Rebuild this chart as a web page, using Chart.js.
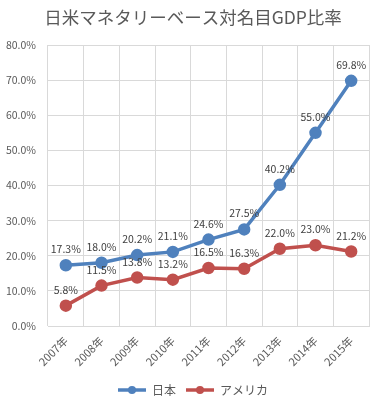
<!DOCTYPE html>
<html><head><meta charset="utf-8">
<script src="https://cdn.jsdelivr.net/npm/chart.js@4/dist/chart.umd.min.js"></script>
<style>html,body{margin:0;padding:0;background:#fff}#wrap{width:383px;height:406px}</style>
</head><body><div id="wrap"><canvas id="c" width="383" height="406"></canvas></div>
<script>
const categories = ['2007年','2008年','2009年','2010年','2011年','2012年','2013年','2014年','2015年'];
const japan = [17.3, 18.0, 20.2, 21.1, 24.6, 27.5, 40.2, 55.0, 69.8];
const usa = [5.8, 11.5, 13.8, 13.2, 16.5, 16.3, 22.0, 23.0, 21.2];
const seriesNames = ['日本', 'アメリカ'];
const colors = ['#4F81BD', '#C0504D'];
const FONT = '"Noto Sans CJK JP", "Noto Sans", sans-serif';

function legendIcon(color){
  const cv = document.createElement('canvas');
  cv.width = 28; cv.height = 10;
  const x = cv.getContext('2d');
  x.strokeStyle = color; x.lineWidth = 3.5;
  x.beginPath(); x.moveTo(0,5); x.lineTo(28,5); x.stroke();
  x.fillStyle = color; x.beginPath(); x.arc(14,5,4,0,Math.PI*2); x.fill();
  return cv;
}
const icons = colors.map(legendIcon);

const labelPlugin = {
  id: 'pointLabels',
  afterLayout(chart){
    if (chart.titleBlock) chart.titleBlock.right = 386;
    if (chart.legend) chart.legend.right = 386;
  },
  afterDatasetsDraw(chart){
    const ctx = chart.ctx;
    ctx.save();
    ctx.font = '10.5px ' + FONT;
    ctx.fillStyle = '#404040';
    ctx.textAlign = 'center';
    ctx.textBaseline = 'middle';
    chart.data.datasets.forEach((ds, i) => {
      chart.getDatasetMeta(i).data.forEach((pt, j) => {
        ctx.fillText(ds.data[j].toFixed(1) + '%', pt.x, pt.y - 16);
      });
    });
    ctx.restore();
  }
};

new Chart(document.getElementById('c'), {
  type: 'line',
  data: {
    labels: categories,
    datasets: [japan, usa].map((d, i) => ({
      label: seriesNames[i],
      data: d,
      borderColor: colors[i],
      backgroundColor: colors[i],
      borderWidth: 3.5,
      pointRadius: 4.5,
      pointHoverRadius: 4.5,
      pointBackgroundColor: colors[i],
      pointBorderColor: colors[i],
      tension: 0
    }))
  },
  options: {
    responsive: false,
    animation: false,
    events: [],
    layout: { padding: { left: 0, right: 14, top: 0, bottom: 0 } },
    plugins: {
      title: {
        display: true,
        text: '日米マネタリーベース対名目GDP比率',
        color: '#595959',
        font: { family: FONT, size: 17.5, weight: 'normal', lineHeight: 1.2 },
        padding: { top: 7, bottom: 17 }
      },
      legend: {
        position: 'bottom',
        labels: {
          color: '#595959',
          font: { family: FONT, size: 12 },
          usePointStyle: true,
          pointStyleWidth: 28,
          padding: 10,
          generateLabels(chart){
            const items = Chart.defaults.plugins.legend.labels.generateLabels(chart);
            items.forEach((it, i) => { it.pointStyle = icons[i]; });
            return items;
          }
        }
      },
      tooltip: { enabled: false }
    },
    scales: {
      x: {
        offset: true,
        grid: { color: '#d9d9d9', offset: true, drawTicks: false },
        border: { color: '#d9d9d9' },
        ticks: { color: '#595959', font: { family: FONT, size: 11 }, minRotation: 45, maxRotation: 45, padding: 8 },
        afterFit(s){ s.height = 48; }
      },
      y: {
        min: 0, max: 80,
        grid: { color: '#d9d9d9', drawTicks: false },
        border: { display: false },
        ticks: { stepSize: 10, color: '#595959', font: { family: FONT, size: 10.5 }, padding: 12,
          callback: v => v.toFixed(1) + '%' },
        afterFit(s){ s.width = 48; }
      }
    }
  },
  plugins: [labelPlugin]
});
</script>
</body></html>
